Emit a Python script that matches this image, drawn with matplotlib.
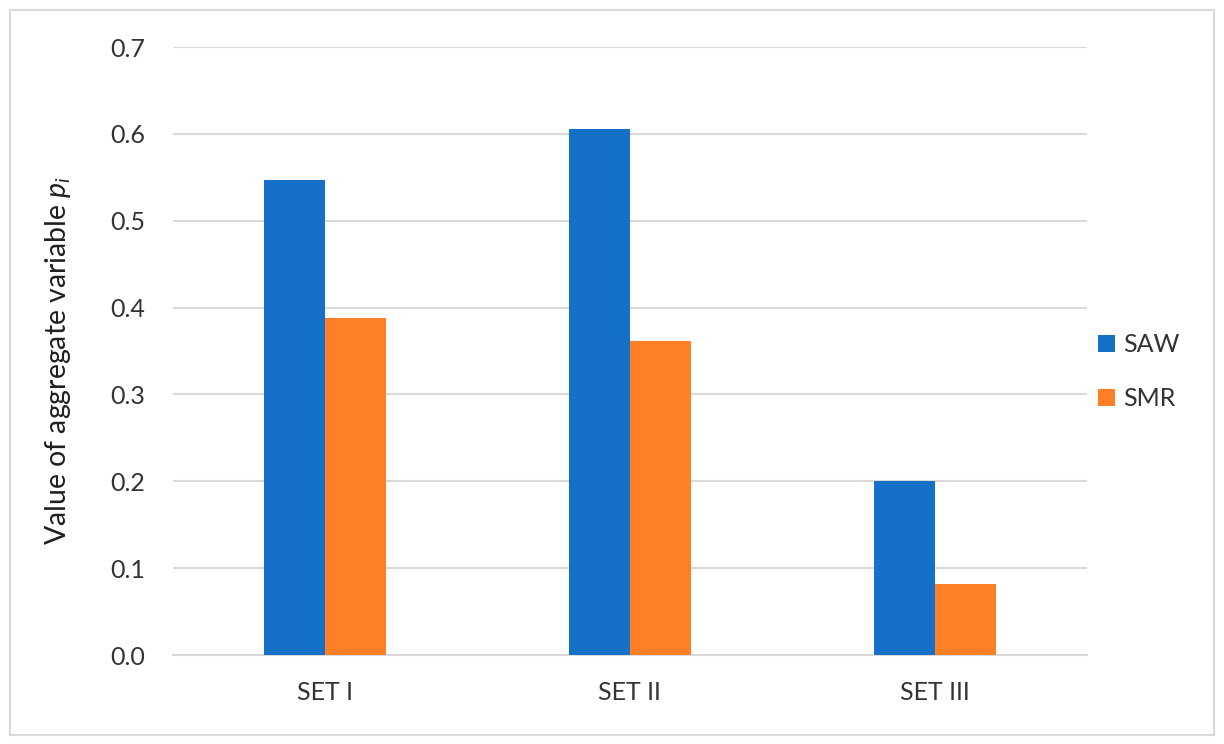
import numpy as np
import matplotlib.pyplot as plt
from matplotlib.patches import Rectangle

# dados
categorias = ['SET I', 'SET II', 'SET III']
saw = [0.547, 0.606, 0.200]
smr = [0.388, 0.362, 0.082]

azul = '#1571C8'
laranja = '#FF7F27'
cinza_texto = '#333333'

plt.rcParams['font.family'] = ['Lato', 'DejaVu Sans']
plt.rcParams['mathtext.fontset'] = 'custom'
plt.rcParams['mathtext.it'] = 'Lato:italic'
plt.rcParams['mathtext.rm'] = 'Lato'

fig = plt.figure(figsize=(12.24, 7.44), dpi=100)
ax = fig.add_axes([0.1413, 0.1196, 0.7467, 0.8172])

x = np.arange(len(categorias))
w = 0.2
ax.bar(x - w / 2, saw, w, color=azul, label='SAW', zorder=3)
ax.bar(x + w / 2, smr, w, color=laranja, label='SMR', zorder=3)

ax.set_xlim(-0.5, 2.5)
ax.set_ylim(0, 0.7)
ax.set_yticks(np.arange(0, 0.71, 0.1))
ax.set_yticklabels([f'{v:.1f}' for v in np.arange(0, 0.71, 0.1)])
ax.set_xticks(x)
ax.set_xticklabels(categorias)
ax.grid(axis='y', color='#D9D9D9', linewidth=1.5, zorder=0)
for s in ['top', 'right', 'left']:
    ax.spines[s].set_visible(False)
ax.spines['bottom'].set_color('#D9D9D9')
ax.spines['bottom'].set_linewidth(1.5)
ax.tick_params(axis='y', length=0, labelsize=18, colors=cinza_texto, pad=20)
ax.tick_params(axis='x', length=0, labelsize=18, colors=cinza_texto, pad=19)
ax.set_ylabel('Value of aggregate variable $p_i$', fontsize=20.5, color='#202020')
ax.yaxis.set_label_coords(-0.109, 0.484)

ax.legend(loc='center left', bbox_to_anchor=(1.012, 0.466), frameon=False,
          borderaxespad=0, borderpad=0,
          fontsize=18, handlelength=0.68, handleheight=0.68, labelspacing=1.25,
          handletextpad=0.32, labelcolor=cinza_texto)

# moldura
fig.patches.append(Rectangle((0.008, 0.012), 0.984, 0.975, transform=fig.transFigure,
                             fill=False, edgecolor='#D9D9D9', linewidth=1.5))

fig.savefig('out.png', dpi=100)
